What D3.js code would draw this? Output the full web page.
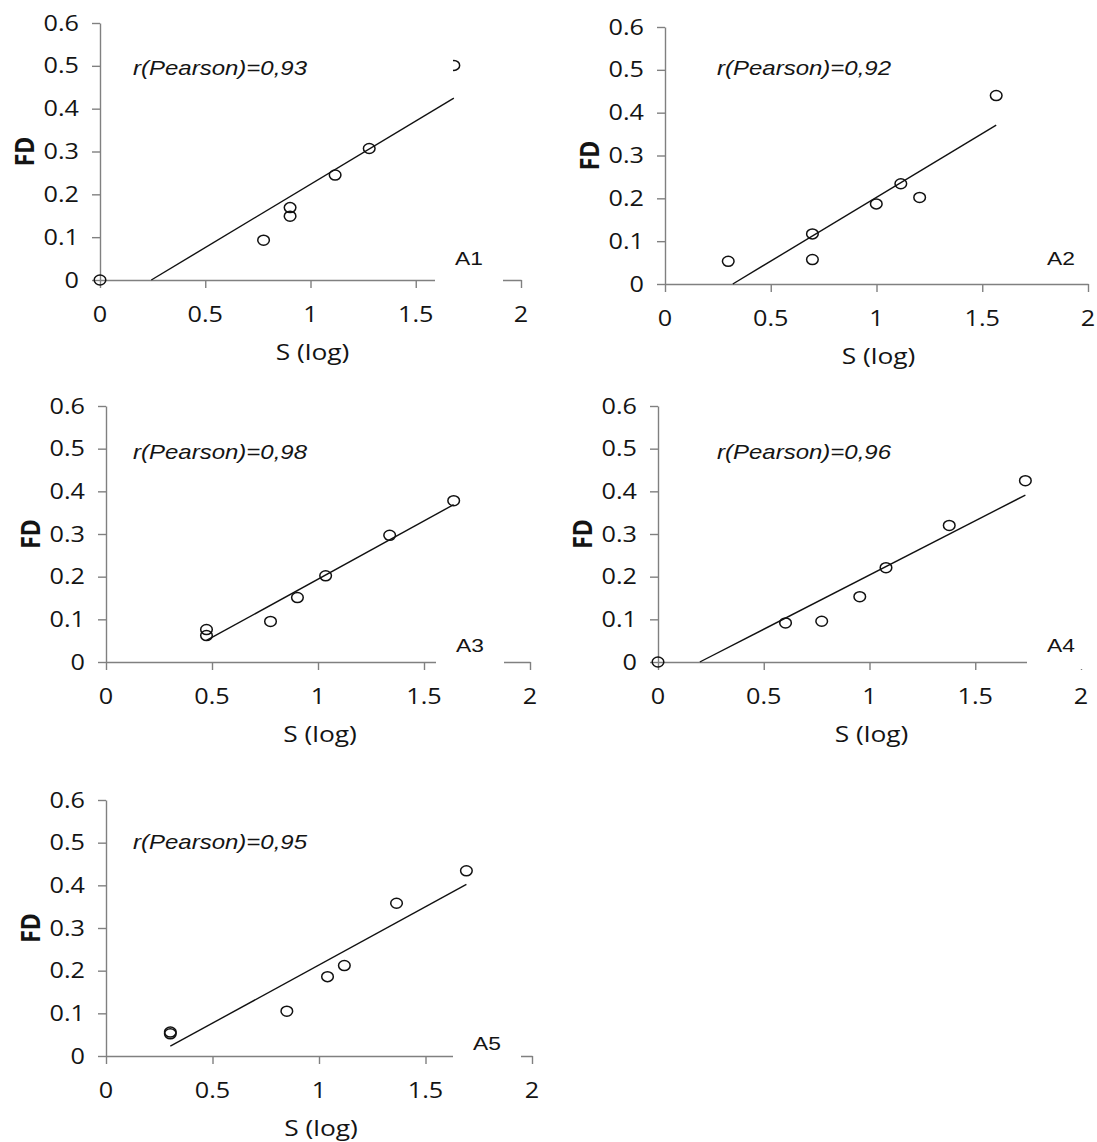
<!DOCTYPE html>
<html>
<head>
<meta charset="utf-8">
<script src="https://cdn.jsdelivr.net/npm/d3@7"></script>
<style>
  html, body { margin: 0; padding: 0; background: #fff; }
  svg { display: block; }
</style>
</head>
<body>
<script>
// ---------------- DATA ----------------
const panelNames = ["A1", "A2", "A3", "A4", "A5"];
const pearsonValues = ["0,93", "0,92", "0,98", "0,96", "0,95"];
const xTickValues = [0, 0.5, 1, 1.5, 2];
const xTickLabels = ["0", "0.5", "1", "1.5", "2"];
const yTickValues = [0, 0.1, 0.2, 0.3, 0.4, 0.5, 0.6];
const yTickLabels = ["0", "0.1", "0.2", "0.3", "0.4", "0.5", "0.6"];
const xTitle = "S (log)";
const yTitle = "FD";

const sA1  = [0, 0.777, 0.903, 0.903, 1.117, 1.279, 1.681];
const fdA1 = [0, 0.093, 0.169, 0.149, 0.245, 0.307, 0.501];
const sA2  = [0.299, 0.697, 0.697, 0.999, 1.115, 1.204, 1.566];
const fdA2 = [0.053, 0.117, 0.057, 0.187, 0.234, 0.202, 0.440];
const sA3  = [0.474, 0.474, 0.776, 0.903, 1.036, 1.338, 1.640];
const fdA3 = [0.076, 0.062, 0.095, 0.151, 0.202, 0.297, 0.378];
const sA4  = [0, 0.603, 0.774, 0.954, 1.078, 1.377, 1.737];
const fdA4 = [0, 0.0915, 0.0955, 0.153, 0.221, 0.320, 0.425];
const sA5  = [0.302, 0.302, 0.849, 1.040, 1.119, 1.364, 1.692];
const fdA5 = [0.052, 0.056, 0.105, 0.186, 0.212, 0.358, 0.434];

const seriesS = [sA1, sA2, sA3, sA4, sA5];
const seriesFD = [fdA1, fdA2, fdA3, fdA4, fdA5];

// ---------------- LAYOUT ----------------
const frames = [
  { x0: 100, x1: 521, yT: 23,  yB: 280, rx: 33, ry: 45, lx: 369, ly: -22 },
  { x0: 665, x1: 1088, yT: 27, yB: 284, rx: 52, ry: 41, lx: 396, ly: -26 },
  { x0: 106, x1: 530, yT: 406, yB: 662, rx: 27, ry: 46, lx: 364, ly: -17 },
  { x0: 658, x1: 1081, yT: 406, yB: 662, rx: 59, ry: 46, lx: 403, ly: -17 },
  { x0: 106, x1: 532, yT: 800, yB: 1056, rx: 27, ry: 42, lx: 381, ly: -13 }
];

const W = 1097, H = 1142;
const STRETCH = 1.2;
const axisColor = "#808080";
const textColor = "#141414";
const tickFont = "'Open Sans', 'Noto Sans', sans-serif";
const labelFont = "'Liberation Sans', Arial, sans-serif";

const svg = d3.select("body").append("svg")
  .attr("width", W).attr("height", H)
  .attr("viewBox", `0 0 ${W} ${H}`);
svg.append("rect").attr("width", W).attr("height", H).attr("fill", "#fff");

function addText(parent, x, y, str, opts) {
  const g = parent.append("g")
    .attr("transform", `translate(${x},${y}) scale(${STRETCH},1)` + (opts.rotate ? ` rotate(${opts.rotate})` : ""));
  g.append("text")
    .attr("x", 0).attr("y", 0)
    .attr("dy", opts.dy || "0.36em")
    .attr("text-anchor", opts.anchor || "middle")
    .attr("font-family", opts.family || tickFont)
    .attr("font-size", opts.size || 21)
    .attr("font-weight", opts.weight || 500)
    .attr("font-style", opts.style || "normal")
    .attr("fill", opts.fill || textColor)
    .text(str);
  return g;
}

function linFit(xs, ys) {
  const mx = d3.mean(xs), my = d3.mean(ys);
  let sxy = 0, sxx = 0;
  xs.forEach((x, i) => { sxy += (x - mx) * (ys[i] - my); sxx += (x - mx) * (x - mx); });
  const m = sxy / sxx;
  return { m, b: my - m * mx };
}

panelNames.forEach((name, pi) => {
  const f = frames[pi];
  const xs = seriesS[pi], ys = seriesFD[pi];
  const x = d3.scaleLinear().domain([0, 2]).range([f.x0, f.x1]);
  const y = d3.scaleLinear().domain([0, 0.6]).range([f.yB, f.yT]);
  const g = svg.append("g");

  const yAxis = g.append("g")
    .attr("transform", `translate(${f.x0},0)`)
    .call(d3.axisLeft(y).tickValues(yTickValues).tickSize(8).tickSizeOuter(0).tickFormat(""));
  const xAxis = g.append("g")
    .attr("transform", `translate(0,${f.yB})`)
    .call(d3.axisBottom(x).tickValues(xTickValues).tickSize(8).tickSizeOuter(0).tickFormat(""));
  [xAxis, yAxis].forEach(a => {
    a.selectAll("path, line").attr("stroke", axisColor).attr("stroke-width", 1.4);
    a.selectAll("text").remove();
  });

  yTickValues.forEach((v, i) => addText(g, f.x0 - 21, y(v), yTickLabels[i], { anchor: "end" }));
  xTickValues.forEach((v, i) => addText(g, x(v), f.yB + 34, xTickLabels[i], {}));

  addText(g, (f.x0 + f.x1) / 2 + 2, f.yB + 72, xTitle, { size: 22 });
  addText(g, f.x0 - 76, (f.yT + f.yB) / 2, yTitle, { size: 23, weight: 700, rotate: -90 });

  const fit = linFit(xs, ys);
  const xmin = d3.min(xs), xmax = d3.max(xs);
  const xStart = Math.max(xmin, -fit.b / fit.m);
  const lineData = [xStart, xmax].map(v => [v, fit.m * v + fit.b]);
  g.append("path")
    .datum(lineData)
    .attr("d", d3.line().x(d => x(d[0])).y(d => y(d[1])))
    .attr("stroke", "#111").attr("stroke-width", 1.4).attr("fill", "none");

  g.selectAll("ellipse.pt").data(xs.map((v, i) => [v, ys[i]])).join("ellipse")
    .attr("class", "pt")
    .attr("cx", d => x(d[0])).attr("cy", d => y(d[1]))
    .attr("rx", 5.8).attr("ry", 5.0)
    .attr("fill", "none").attr("stroke", "#111").attr("stroke-width", 1.5);

  const px = f.x0 + f.rx, py = f.yT + f.ry;
  g.append("rect").attr("x", px - 5).attr("y", py - 13).attr("width", 325).attr("height", 26).attr("fill", "#fff");
  addText(g, px, py, `r(Pearson)=${pearsonValues[pi]}`, { anchor: "start", family: labelFont, size: 20, weight: 400, style: "italic", dy: "0.35em" });

  const lx = f.x0 + f.lx, ly = f.yB + f.ly;
  g.append("rect").attr("x", lx - 34).attr("y", ly - 16).attr("width", 68).attr("height", 40).attr("fill", "#fff");
  addText(g, lx, ly, name, { family: labelFont, size: 19, weight: 400, dy: "0.36em" });
});
</script>
</body>
</html>
